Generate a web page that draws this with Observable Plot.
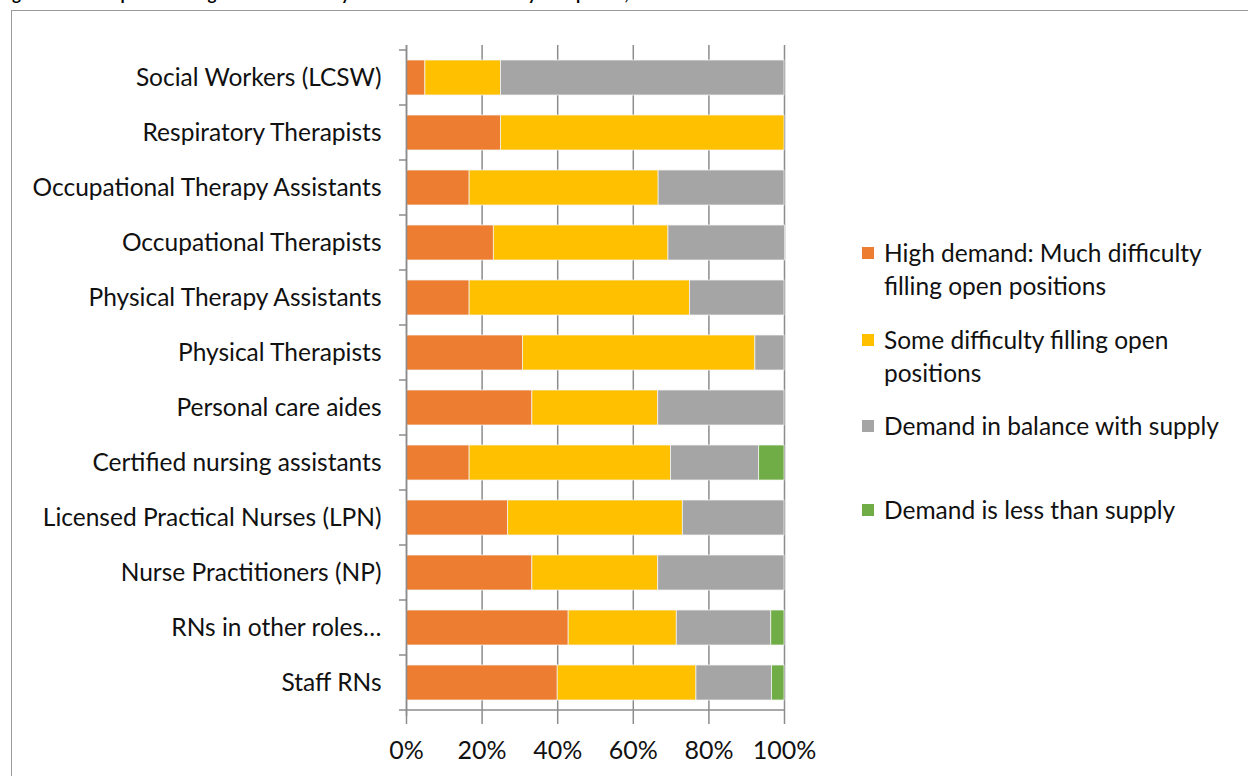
<!DOCTYPE html>
<html>
<head>
<meta charset="utf-8">
<script src="https://cdn.jsdelivr.net/npm/d3@7"></script>
<script src="https://cdn.jsdelivr.net/npm/@observablehq/plot@0.6"></script>
<style>
  html, body { margin: 0; padding: 0; background: #fff; overflow: hidden; }
  body { width: 1248px; height: 776px; position: relative; font-family: Lato, "Open Sans", sans-serif; }
  #title { position: absolute; left: -2px; top: -17px; font: bold 17px Lato, sans-serif; color: #000; white-space: nowrap; }
  #frame { position: absolute; left: 11px; top: 10px; width: 1260px; height: 800px; border: 1px solid #9a9a9a; box-sizing: border-box; background: #fff; }
  #chart { position: absolute; left: 0; top: 0; }
  #legend { position: absolute; left: 862px; top: 236px; font-size: 24.5px; color: #111; }
  .item { position: absolute; left: 0; width: 380px; line-height: 33px; padding-left: 22px; white-space: nowrap; }
  .sw { position: absolute; left: 0; top: 11px; width: 12px; height: 12px; }
</style>
</head>
<body>
<div id="title">Figure 14: Perception of long-term care facility labor market demand by occupation, 2015</div>
<div id="frame"></div>
<div id="chart"></div>
<div id="legend"></div>
<script>
const categories = [
  "Social Workers (LCSW)",
  "Respiratory Therapists",
  "Occupational Therapy Assistants",
  "Occupational Therapists",
  "Physical Therapy Assistants",
  "Physical Therapists",
  "Personal care aides",
  "Certified nursing assistants",
  "Licensed Practical Nurses (LPN)",
  "Nurse Practitioners (NP)",
  "RNs in other roles…",
  "Staff RNs"
];
const seriesNames = [
  "High demand: Much difficulty filling open positions",
  "Some difficulty filling open positions",
  "Demand in balance with supply",
  "Demand is less than supply"
];
const seriesColors = ["#ED7D31", "#FFC000", "#A5A5A5", "#70AD47"];
const highDemand   = [5.0, 25.0, 16.7, 23.1, 16.7, 30.8, 33.3, 16.7, 26.9, 33.3, 42.9, 40.0];
const someDiff     = [20.0, 75.0, 50.0, 46.2, 58.3, 61.5, 33.3, 53.3, 46.2, 33.3, 28.6, 36.7];
const inBalance    = [75.0, 0, 33.3, 30.8, 25.0, 7.7, 33.4, 23.3, 26.9, 33.4, 25.0, 20.0];
const lessThan     = [0, 0, 0, 0, 0, 0, 0, 6.7, 0, 0, 3.5, 3.3];
const xTicks = [0, 0.2, 0.4, 0.6, 0.8, 1.0];
const xTickLabels = ["0%", "20%", "40%", "60%", "80%", "100%"];

const series = [highDemand, someDiff, inBalance, lessThan];
const rows = [];
categories.forEach((c, i) => {
  series.forEach((s, k) => {
    rows.push({category: c, series: seriesNames[k], order: k, value: s[i] / 100});
  });
});

const W = 1248, H = 776;
const plot = Plot.plot({
  width: W,
  height: H,
  marginLeft: 406,
  marginRight: W - 784,
  marginTop: 45,
  marginBottom: H - 716,
  style: {fontFamily: "Lato, 'Open Sans', sans-serif", fontSize: "24.5px", color: "#111", background: "transparent"},
  x: {domain: [0, 1], ticks: xTicks},
  y: {domain: categories, paddingInner: 0.356, paddingOuter: 0.178},
  color: {domain: seriesNames, range: seriesColors},
  marks: [
    Plot.gridX(xTicks, {stroke: "#8c8c8c", strokeOpacity: 1, strokeWidth: 1.5}),
    Plot.barX(rows, Plot.stackX({
      x: "value", y: "category", fill: "series", order: "order",
      stroke: "#f4f4f4", strokeWidth: 0.75
    })),
    Plot.ruleX([0], {stroke: "#8c8c8c", strokeWidth: 1.5}),
    Plot.axisX(xTicks, {
      tickFormat: (d, i) => xTickLabels[i],
      tickSize: 8, tickPadding: 17, stroke: "#8c8c8c", strokeWidth: 1.5,
      fill: "#111", fontSize: 25, label: null
    }),
    Plot.axisY({tickSize: 0, tickPadding: 25, fill: "#111", fontSize: 24.5, label: null})
  ]
});
document.getElementById("chart").appendChild(plot);

// Category boundary ticks and bottom axis line, from Plot's own scales
const ys = plot.scale("y");
const xs = plot.scale("x");
const svg = d3.select(plot);
const step = ys.step;
const bounds = categories.map(c => ys.apply(c) - (step - ys.bandwidth) / 2);
bounds.push(bounds[bounds.length - 1] + step);
const x0 = xs.apply(0), x1 = xs.apply(1);
svg.append("g").attr("stroke", "#8c8c8c").attr("stroke-width", 1.5)
  .selectAll("line").data(bounds).join("line")
  .attr("x1", x0 - 7).attr("x2", x0).attr("y1", d => d).attr("y2", d => d);
svg.append("line").attr("stroke", "#8c8c8c").attr("stroke-width", 1.5)
  .attr("x1", x0).attr("x2", x1)
  .attr("y1", bounds[bounds.length - 1]).attr("y2", bounds[bounds.length - 1]);

// Legend
const legendTops = [0, 87, 173, 257];
const legendLines = [
  ["High demand: Much difficulty", "filling open positions"],
  ["Some difficulty filling open", "positions"],
  ["Demand in balance with supply"],
  ["Demand is less than supply"]
];
const legend = d3.select("#legend");
seriesNames.forEach((n, i) => {
  const it = legend.append("div").attr("class", "item").style("top", legendTops[i] + "px");
  it.append("div").attr("class", "sw").style("background", seriesColors[i]);
  it.append("span").html(legendLines[i].join("<br>"));
});
</script>
</body>
</html>
